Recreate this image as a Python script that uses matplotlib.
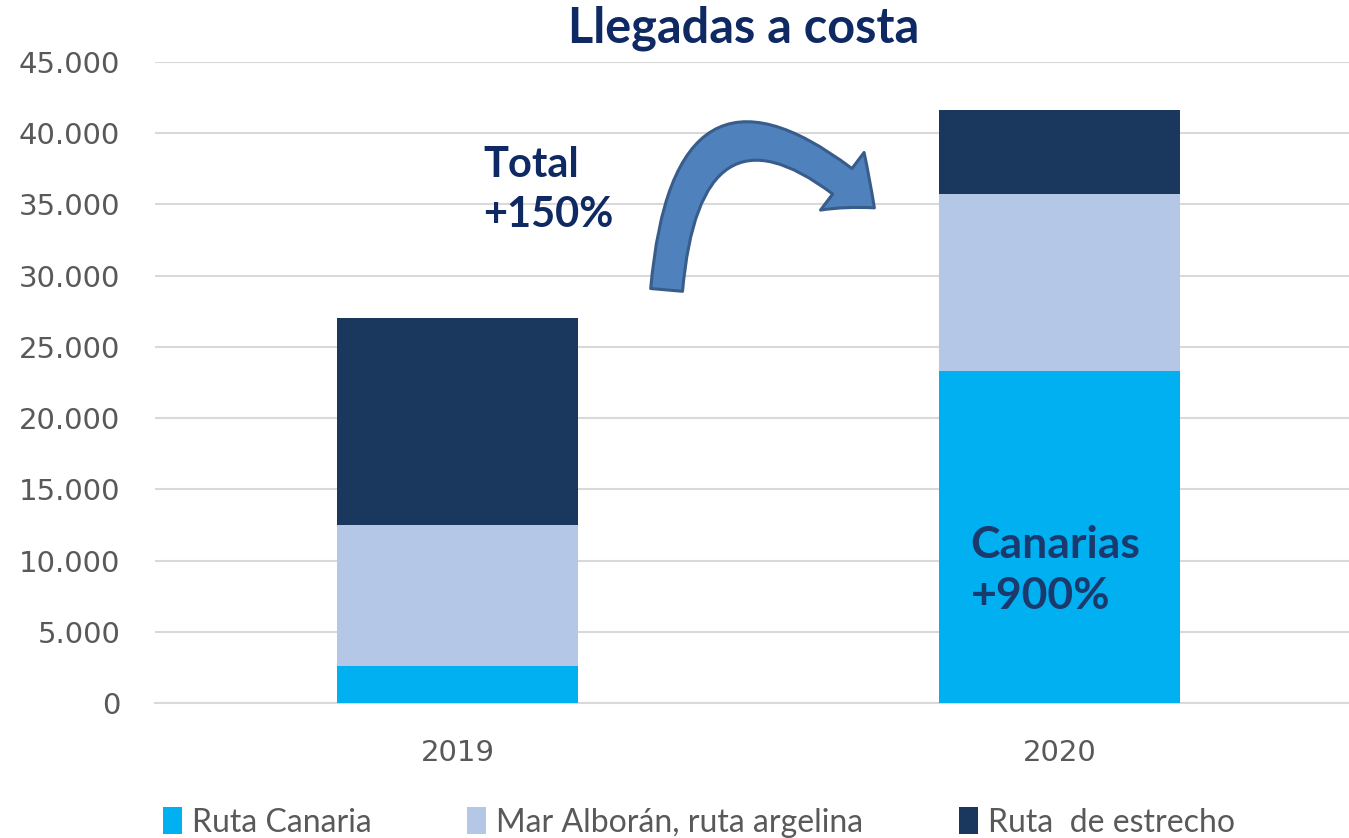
import matplotlib.pyplot as plt
from matplotlib.patches import FancyArrowPatch
from matplotlib.ticker import FuncFormatter

years = ['2019', '2020']
ruta_canaria = [2600, 23300]
mar_alboran = [9900, 12400]
ruta_estrecho = [14500, 5900]

c_canaria = '#00b0f0'
c_alboran = '#b4c7e7'
c_estrecho = '#1a375e'
navy = '#0f2a63'

fig = plt.figure(figsize=(13.49, 8.38), dpi=100)
ax = fig.add_axes([155 / 1349, 1 - 703 / 838, 1206 / 1349, 641 / 838])

x = range(len(years))
b1 = ax.bar(x, ruta_canaria, width=0.4, color=c_canaria, label='Ruta Canaria', zorder=3)
bottom2 = ruta_canaria
b2 = ax.bar(x, mar_alboran, width=0.4, bottom=bottom2, color=c_alboran,
            label='Mar Alborán, ruta argelina', zorder=3)
bottom3 = [a + b for a, b in zip(ruta_canaria, mar_alboran)]
b3 = ax.bar(x, ruta_estrecho, width=0.4, bottom=bottom3, color=c_estrecho,
            label='Ruta  de estrecho', zorder=3)

ax.set_xlim(-0.5025, 1.5)
ax.set_ylim(0, 45000)
ax.set_yticks(range(0, 45001, 5000))
ax.yaxis.set_major_formatter(FuncFormatter(lambda v, p: f'{int(v):,}'.replace(',', '.')))
ax.set_xticks(list(x))
ax.set_xticklabels(years)
ax.tick_params(length=0, labelsize=21, labelcolor='#595959')
ax.tick_params(axis='y', pad=25)
ax.tick_params(axis='x', pad=26)
ax.grid(axis='y', color='#d9d9d9', lw=1.5, zorder=0)
for s in ['top', 'right', 'left']:
    ax.spines[s].set_visible(False)
ax.spines['bottom'].set_color('#d9d9d9')
ax.spines['bottom'].set_linewidth(1.5)

fig.text(0.551, 0.966, 'Llegadas a costa', ha='center', va='center',
         fontsize=35, fontweight='bold', color=navy, family='Lato')

ax.text(0.043, 36000, 'Total\n+150%', ha='left', va='center', fontsize=30,
        fontweight='bold', color=navy, family='Lato', linespacing=1.4)
ax.text(0.852, 9300, 'Canarias\n+900%', ha='left', va='center', fontsize=32,
        fontweight='bold', color='#1a3a6e', family='Lato', linespacing=1.35, zorder=4)

# curved arrow from 2019 towards 2020
arrow = FancyArrowPatch((0.347, 29000), (0.692, 34760),
                        connectionstyle='arc3,rad=-1.0',
                        arrowstyle='simple,head_width=2.6,head_length=1.5,tail_width=1.15',
                        mutation_scale=20, shrinkA=0, shrinkB=0,
                        facecolor='#4f81bd', edgecolor='#385d8a',
                        lw=2.2, zorder=5)
ax.add_patch(arrow)

fig.legend(handles=[b1, b2, b3], loc='lower center', bbox_to_anchor=(0.518, -0.034),
           ncol=3, frameon=False, prop={'family': 'Lato', 'size': 23},
           labelcolor='#595959', handlelength=0.6, handleheight=0.9,
           handletextpad=0.3, columnspacing=3.0)

fig.savefig('out.png', dpi=100)
